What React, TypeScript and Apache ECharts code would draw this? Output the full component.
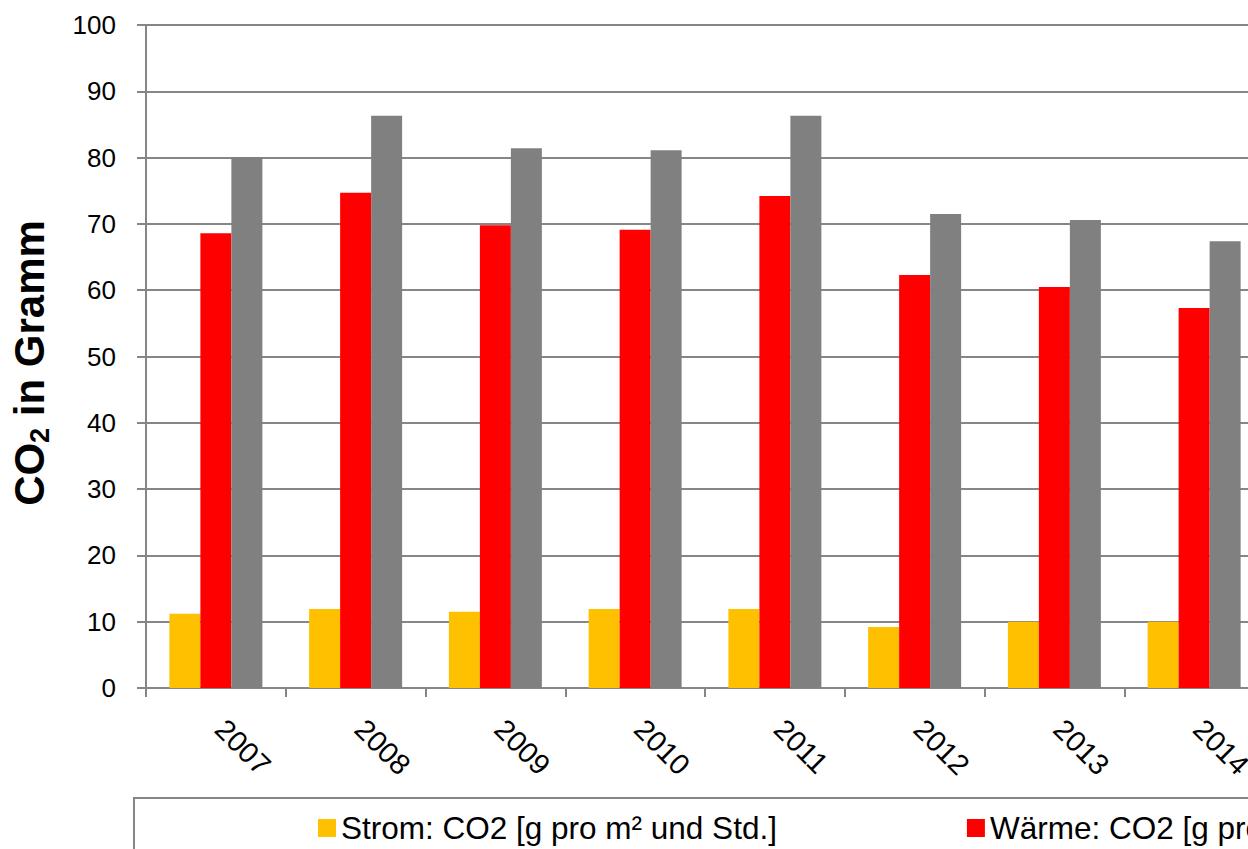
import React, { useEffect, useRef } from "react";
import * as echarts from "echarts";

const categories = ["2007", "2008", "2009", "2010", "2011", "2012", "2013", "2014"];
const strom = [11.2, 11.9, 11.5, 11.9, 11.9, 9.2, 10.0, 10.0];
const waerme = [68.6, 74.7, 69.8, 69.1, 74.2, 62.3, 60.5, 57.3];
const gesamt = [80.1, 86.3, 81.4, 81.1, 86.3, 71.5, 70.6, 67.4];
const seriesNames = [
  "Strom: CO2 [g pro m² und Std.]",
  "Wärme: CO2 [g pro m² und Std.]",
  "Gesamt: CO2 [g pro m² und Std.]",
];
const colors = ["#FFC000", "#FF0000", "#808080"];

const FONT = "'Liberation Sans', Arial, sans-serif";
const GRIDC = "#868686";

export default function App() {
  const ref = useRef<HTMLDivElement>(null);
  useEffect(() => {
    if (!ref.current) return;
    const chart = echarts.init(ref.current, undefined, { renderer: "svg" });
    const datasets = [strom, waerme, gesamt];
    chart.setOption({
      animation: false,
      backgroundColor: "#ffffff",
      textStyle: { fontFamily: FONT },
      grid: { left: 146, top: 25, width: 1118, height: 663 },
      legend: {
        left: 313,
        top: 807,
        width: 2400,
        itemGap: 190,
        itemWidth: 18,
        itemHeight: 18,
        icon: "rect",
        textStyle: { fontSize: 31.5, color: "#000", fontFamily: FONT },
        data: seriesNames,
      },
      xAxis: {
        type: "category",
        data: categories,
        axisLine: { lineStyle: { color: GRIDC, width: 2 } },
        axisTick: { show: true, length: 9, lineStyle: { color: GRIDC, width: 2 } },
        axisLabel: {
          rotate: -45,
          fontSize: 29,
          color: "#000",
          margin: 32,
          padding: [0, 0, 0, 6],
          fontFamily: FONT,
        },
      },
      yAxis: {
        type: "value",
        min: 0,
        max: 100,
        interval: 10,
        axisLine: { show: true, lineStyle: { color: GRIDC, width: 2 } },
        axisTick: { show: true, length: 9, lineStyle: { color: GRIDC, width: 2 } },
        axisLabel: { fontSize: 26, color: "#000", margin: 30, fontFamily: FONT },
        splitLine: { lineStyle: { color: GRIDC, width: 2 } },
      },
      graphic: [
        {
          type: "rect",
          z: 0,
          shape: { x: 134, y: 798, width: 3000, height: 300 },
          style: { fill: "transparent", stroke: GRIDC, lineWidth: 2 },
        },
        {
          type: "text",
          x: 29,
          y: 363,
          rotation: Math.PI / 2,
          style: {
            text: "{a|CO}{b|2}{a| in Gramm}",
            align: "center",
            verticalAlign: "middle",
            fill: "#000",
            rich: {
              a: { fontSize: 42, fontWeight: "bold", fontFamily: FONT, fill: "#000", lineHeight: 48 },
              b: { fontSize: 27, fontWeight: "bold", fontFamily: FONT, fill: "#000", lineHeight: 30, verticalAlign: "bottom" },
            },
          },
        },
      ],
      series: seriesNames.map((name, i) => ({
        name,
        type: "bar",
        data: datasets[i],
        barWidth: 31,
        barGap: "0%",
        itemStyle: { color: colors[i] },
      })),
    });
    return () => chart.dispose();
  }, []);
  return (
    <div
      ref={ref}
      style={{ position: "fixed", left: 0, top: 0, width: 2600, height: 849 }}
    />
  );
}
